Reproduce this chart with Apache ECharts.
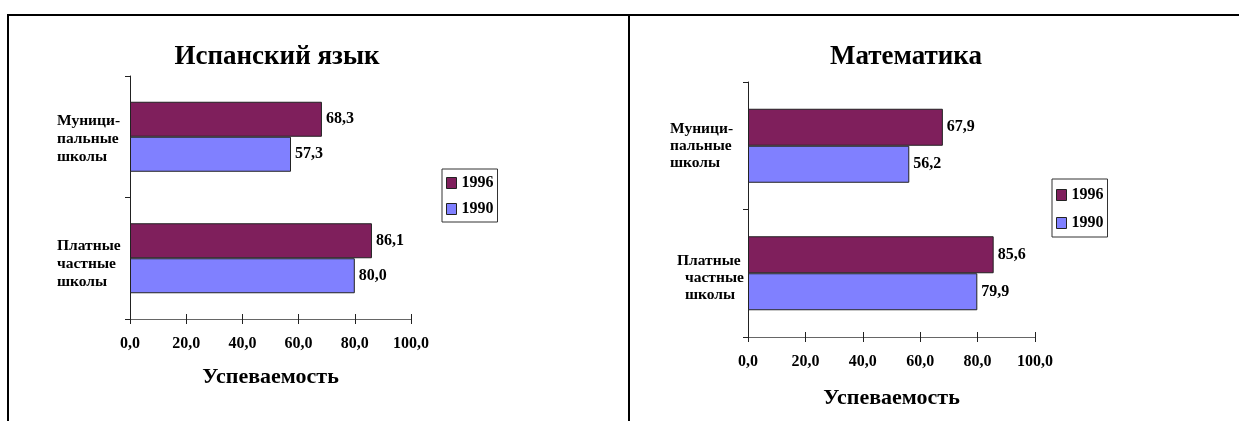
<!DOCTYPE html>
<html>
<head>
<meta charset="utf-8">
<script src="https://cdn.jsdelivr.net/npm/echarts@6/dist/echarts.min.js"></script>
<style>
html,body{margin:0;padding:0;background:#fff;}
#chart{width:1239px;height:421px;}
</style>
</head>
<body>
<div id="chart"></div>
<script>
// ---- data ----
const categories = ['Муници-\nпальные\nшколы', 'Платные\nчастные\nшколы'];
const seriesNames = ['1996', '1990'];
const spanish1996 = [68.3, 86.1];
const spanish1990 = [57.3, 80.0];
const math1996 = [67.9, 85.6];
const math1990 = [56.2, 79.9];
const titles = ['Испанский язык', 'Математика'];
const axisName = 'Успеваемость';
const xMin = 0, xMax = 100, xStep = 20;

const FONT = 'Liberation Serif';
const C1996 = '#7f1f5c';
const C1990 = '#8080ff';
const fmt = v => Number(v).toFixed(1).replace('.', ',');

const chart = echarts.init(document.getElementById('chart'));

function valueAxis(grid, nameGap) {
  return {
    type: 'value', gridIndex: grid, min: xMin, max: xMax, interval: xStep,
    position: 'bottom',
    name: axisName, nameLocation: 'middle', nameGap: nameGap,
    nameTextStyle: {fontFamily: FONT, fontWeight: 'bold', fontSize: 22, color: '#000'},
    axisLine: {show: true, lineStyle: {color: '#666', width: 1}},
    axisTick: {show: true, length: 5, lineStyle: {color: '#222', width: 1}},
    axisLabel: {formatter: fmt, margin: 17, fontFamily: FONT, fontWeight: 'bold', fontSize: 16, color: '#000'},
    splitLine: {show: false}
  };
}
function tickOverlay(grid) {
  return {
    type: 'value', gridIndex: grid, min: xMin, max: xMax, interval: xStep,
    position: 'bottom',
    axisLine: {show: false},
    axisTick: {show: true, inside: true, length: 5, lineStyle: {color: '#222', width: 1}},
    axisLabel: {show: false}, splitLine: {show: false}
  };
}
const lblBase = {fontFamily: FONT, fontWeight: 'bold', fontSize: 16, color: '#000'};
function richSet(lh) {
  const t = {fontFamily: FONT, fontWeight: 'bold', fontSize: 15.5, lineHeight: lh, color: '#000'};
  return {
    t: t,
    i1: Object.assign({}, t, {padding: [0, 0, 0, 7]}),
    i2: Object.assign({}, t, {padding: [0, 0, 0, 15]}),
    s4: {fontSize: 1, lineHeight: 4},
    s10: {fontSize: 1, lineHeight: 10},
    s12: {fontSize: 1, lineHeight: 12}
  };
}

const option = {
  animation: false,
  backgroundColor: '#fff',
  title: [
    {text: titles[0], left: 277, top: 44, padding: 0, textAlign: 'center',
     textStyle: {fontFamily: FONT, fontWeight: 'bold', fontSize: 27, color: '#000'}},
    {text: titles[1], left: 906, top: 44, padding: 0, textAlign: 'center',
     textStyle: {fontFamily: FONT, fontWeight: 'bold', fontSize: 27, color: '#000'}}
  ],
  legend: [
    {data: seriesNames, orient: 'vertical', left: 442, top: 169, padding: [6, 4, 5, 4], icon: 'rect',
     itemGap: 10, itemWidth: 10, itemHeight: 11, borderColor: '#333', borderWidth: 1,
     textStyle: {fontFamily: FONT, fontWeight: 'bold', fontSize: 16, color: '#000'},
     itemStyle: {borderColor: '#222', borderWidth: 1}},
    {data: seriesNames, orient: 'vertical', left: 1052, top: 179, padding: [8, 4, 6, 4], icon: 'rect',
     itemGap: 12, itemWidth: 10, itemHeight: 11, borderColor: '#333', borderWidth: 1,
     textStyle: {fontFamily: FONT, fontWeight: 'bold', fontSize: 16, color: '#000'},
     itemStyle: {borderColor: '#222', borderWidth: 1}}
  ],
  grid: [
    {left: 130, top: 76, width: 281, height: 243},
    {left: 748, top: 82, width: 287, height: 255}
  ],
  xAxis: [valueAxis(0, 47), valueAxis(1, 50), tickOverlay(0), tickOverlay(1)],
  yAxis: [
    {type: 'category', gridIndex: 0, data: categories, inverse: true,
     axisLine: {show: true, lineStyle: {color: '#222', width: 1}},
     axisTick: {show: true, length: 5, lineStyle: {color: '#222'}},
     axisLabel: {align: 'left', margin: 73, fontFamily: FONT, fontWeight: 'bold', fontSize: 15.5, lineHeight: 18, color: '#000',
       formatter: function (v, i) {
         const p = v.split('\n');
         const sp = i === 1 ? 's12' : 's4';
         return '{' + sp + '| }\n{t|' + p[0] + '}\n{t|' + p[1] + '}\n{t|' + p[2] + '}';
       },
       rich: richSet(18)}},
    {type: 'category', gridIndex: 1, data: categories, inverse: true,
     axisLine: {show: true, lineStyle: {color: '#222', width: 1}},
     axisTick: {show: true, length: 5, lineStyle: {color: '#222'}},
     axisLabel: {align: 'left', margin: 78, fontFamily: FONT, fontWeight: 'bold', fontSize: 15.5, lineHeight: 17, color: '#000',
       formatter: function (v, i) {
         const p = v.split('\n');
         if (i === 1) return '{s10| }\n{i1|' + p[0] + '}\n{i2|' + p[1] + '}\n{i2|' + p[2] + '}';
         return '{t|' + p[0] + '}\n{t|' + p[1] + '}\n{t|' + p[2] + '}';
       },
       rich: richSet(17)}}
  ],
  series: [
    {name: seriesNames[0], type: 'bar', xAxisIndex: 0, yAxisIndex: 0, data: spanish1996, barWidth: 35, barGap: '0%',
     itemStyle: {color: C1996, borderColor: '#222', borderWidth: 1},
     label: Object.assign({show: true, position: 'right', distance: 4, formatter: p => fmt(p.value)}, lblBase)},
    {name: seriesNames[1], type: 'bar', xAxisIndex: 0, yAxisIndex: 0, data: spanish1990, barWidth: 35, barGap: '0%',
     itemStyle: {color: C1990, borderColor: '#222', borderWidth: 1},
     label: Object.assign({show: true, position: 'right', distance: 4, formatter: p => fmt(p.value)}, lblBase)},
    {name: seriesNames[0], type: 'bar', xAxisIndex: 1, yAxisIndex: 1, data: math1996, barWidth: 37, barGap: '0%',
     itemStyle: {color: C1996, borderColor: '#222', borderWidth: 1},
     label: Object.assign({show: true, position: 'right', distance: 4, formatter: p => fmt(p.value)}, lblBase)},
    {name: seriesNames[1], type: 'bar', xAxisIndex: 1, yAxisIndex: 1, data: math1990, barWidth: 37, barGap: '0%',
     itemStyle: {color: C1990, borderColor: '#222', borderWidth: 1},
     label: Object.assign({show: true, position: 'right', distance: 4, formatter: p => fmt(p.value)}, lblBase)}
  ],
  graphic: [
    {type: 'line', shape: {x1: 7, y1: 15, x2: 1239, y2: 15}, style: {stroke: '#000', lineWidth: 2}},
    {type: 'line', shape: {x1: 8, y1: 14, x2: 8, y2: 421}, style: {stroke: '#000', lineWidth: 2}},
    {type: 'line', shape: {x1: 629, y1: 14, x2: 629, y2: 421}, style: {stroke: '#000', lineWidth: 2}}
  ]
};
chart.setOption(option);
</script>
</body>
</html>
